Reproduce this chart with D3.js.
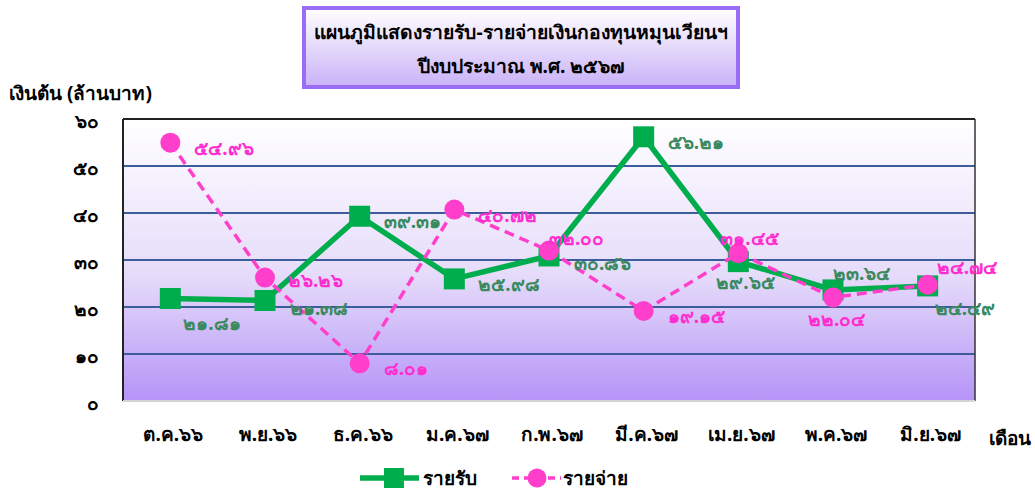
<!DOCTYPE html>
<html>
<head>
<meta charset="utf-8">
<script src="https://cdn.jsdelivr.net/npm/d3@7"></script>
<style>
  body { margin: 0; background: #fff; font-family: "Noto Sans", "DejaVu Sans", sans-serif; }
  svg text { font-family: "Noto Sans", "DejaVu Sans", sans-serif; }
</style>
</head>
<body>
<div id="chart"></div>
<script>
// ---- data ----
const months = ['ต.ค.๖๖', 'พ.ย.๖๖', 'ธ.ค.๖๖', 'ม.ค.๖๗', 'ก.พ.๖๗', 'มี.ค.๖๗', 'เม.ย.๖๗', 'พ.ค.๖๗', 'มิ.ย.๖๗'];
const income = [21.81, 21.38, 39.31, 25.98, 30.86, 56.21, 29.65, 23.64, 24.49];
const expense = [54.96, 26.26, 8.01, 40.72, 32.00, 19.15, 31.45, 22.04, 24.74];
const yTicks = [0, 10, 20, 30, 40, 50, 60];

// label placement per point (style only)
const incomeLabelPos = ['below', 'rightLow', 'right', 'right', 'rightLow', 'right', 'belowLeft', 'above', 'belowRight'];
const expenseLabelPos = ['right', 'rightHigh', 'right', 'right', 'above', 'right', 'aboveLeft', 'belowLeft', 'aboveRight'];

const thaiDigits = '๐๑๒๓๔๕๖๗๘๙';
const toThai = s => String(s).replace(/[0-9]/g, d => thaiDigits[+d]);

const W = 1035, H = 490;
const plot = { left: 123, right: 975, top: 119, bottom: 401 };
const FS = 19;

const svg = d3.select('#chart').append('svg')
    .attr('width', W)
    .attr('height', H);

const defs = svg.append('defs');
const bg = defs.append('linearGradient').attr('id', 'plotBg')
    .attr('x1', 0).attr('y1', 0).attr('x2', 0).attr('y2', 1);
bg.append('stop').attr('offset', '0%').attr('stop-color', '#ffffff');
bg.append('stop').attr('offset', '55%').attr('stop-color', '#e6dcfa');
bg.append('stop').attr('offset', '100%').attr('stop-color', '#b594f7');

const tg = defs.append('linearGradient').attr('id', 'titleBg')
    .attr('x1', 0).attr('y1', 0).attr('x2', 0).attr('y2', 1);
tg.append('stop').attr('offset', '0%').attr('stop-color', '#ffffff');
tg.append('stop').attr('offset', '100%').attr('stop-color', '#c9b2f7');

// scales
const x = d3.scaleBand().domain(months).range([plot.left, plot.right]);
const y = d3.scaleLinear().domain([0, 60]).range([plot.bottom, plot.top]);
const cx = m => x(m) + x.bandwidth() / 2;

// plot background
svg.append('rect')
    .attr('x', plot.left).attr('y', plot.top)
    .attr('width', plot.right - plot.left).attr('height', plot.bottom - plot.top)
    .attr('fill', 'url(#plotBg)');

// gridlines
svg.append('g')
    .selectAll('line')
    .data(yTicks.filter(t => t > 0 && t < 60))
    .enter().append('line')
    .attr('x1', plot.left).attr('x2', plot.right)
    .attr('y1', d => y(d)).attr('y2', d => y(d))
    .attr('stroke', '#3d5c9a').attr('stroke-width', 2);

// frame
svg.append('line').attr('x1', plot.left).attr('x2', plot.right)
    .attr('y1', plot.top).attr('y2', plot.top).attr('stroke', '#222').attr('stroke-width', 2);
svg.append('line').attr('x1', plot.left).attr('x2', plot.left)
    .attr('y1', plot.top).attr('y2', plot.bottom).attr('stroke', '#222').attr('stroke-width', 2);
svg.append('line').attr('x1', plot.right).attr('x2', plot.right)
    .attr('y1', plot.top).attr('y2', plot.bottom).attr('stroke', '#333').attr('stroke-width', 1.5);
svg.append('line').attr('x1', plot.left).attr('x2', plot.right)
    .attr('y1', plot.bottom).attr('y2', plot.bottom).attr('stroke', '#d4d4d4').attr('stroke-width', 2);

// y axis
const yAxis = d3.axisLeft(y).tickValues(yTicks).tickSize(0).tickPadding(0)
    .tickFormat(d => toThai(d));
const yG = svg.append('g').attr('transform', `translate(99,2)`).call(yAxis);
yG.select('.domain').remove();
yG.selectAll('text')
    .attr('font-size', FS).attr('font-weight', 'bold').attr('fill', '#000');

// x axis
const xAxis = d3.axisBottom(x).tickSize(0).tickPadding(0);
const xG = svg.append('g').attr('transform', `translate(3,${plot.bottom + 26})`).call(xAxis);
xG.select('.domain').remove();
xG.selectAll('text')
    .attr('font-size', FS).attr('font-weight', 'bold').attr('fill', '#000');

// axis titles
svg.append('text').attr('x', 9).attr('y', 100)
    .attr('font-size', FS).attr('font-weight', 'bold')
    .text('เงินต้น (ล้านบาท)');
svg.append('text').attr('x', 989).attr('y', 445)
    .attr('font-size', FS).attr('font-weight', 'bold')
    .text('เดือน');

// title box
svg.append('rect')
    .attr('x', 304).attr('y', 8).attr('width', 434).attr('height', 79)
    .attr('fill', 'url(#titleBg)')
    .attr('stroke', '#9b6cf5').attr('stroke-width', 4);
svg.append('text').attr('x', 521).attr('y', 39)
    .attr('text-anchor', 'middle').attr('font-size', 19.3).attr('font-weight', 'bold')
    .text('แผนภูมิแสดงรายรับ-รายจ่ายเงินกองทุนหมุนเวียนฯ');
svg.append('text').attr('x', 521).attr('y', 73)
    .attr('text-anchor', 'middle').attr('font-size', 19.3).attr('font-weight', 'bold')
    .text('ปีงบประมาณ พ.ศ. ๒๕๖๗');

// series
const incomeColor = '#00ad4d';
const expenseColor = '#ff3fcb';
const line = d3.line().x((d, i) => cx(months[i])).y(d => y(d));

svg.append('path').datum(income)
    .attr('d', line).attr('fill', 'none')
    .attr('stroke', incomeColor).attr('stroke-width', 5.5);

svg.append('g').selectAll('rect')
    .data(income).enter().append('rect')
    .attr('x', (d, i) => cx(months[i]) - 10.5)
    .attr('y', d => y(d) - 10.5)
    .attr('width', 21).attr('height', 21)
    .attr('fill', incomeColor);

svg.append('path').datum(expense)
    .attr('d', line).attr('fill', 'none')
    .attr('stroke', expenseColor).attr('stroke-width', 3.5)
    .attr('stroke-dasharray', '10,6');

svg.append('g').selectAll('circle')
    .data(expense).enter().append('circle')
    .attr('cx', (d, i) => cx(months[i]))
    .attr('cy', d => y(d))
    .attr('r', 10)
    .attr('fill', expenseColor);

// data label offsets from the point: [dx, dy of baseline]
const labelOffset = {
    right: [24, 12],
    rightLow: [25, 14],
    rightHigh: [23, 9],
    below: [13, 32],
    belowLeft: [-22, 27],
    belowRight: [7, 29],
    above: [0, -10],
    aboveLeft: [-18, -8],
    aboveRight: [9, -11]
};
const expenseOverride = { above: [0, -6], belowLeft: [-25, 29] };

function drawLabels(values, places, color, override) {
    const off = p => (override && override[p]) || labelOffset[p];
    svg.append('g').selectAll('text')
        .data(values).enter().append('text')
        .attr('x', (d, i) => cx(months[i]) + off(places[i])[0])
        .attr('y', (d, i) => y(d) + off(places[i])[1])
        .attr('font-size', FS).attr('font-weight', 'bold')
        .attr('fill', color)
        .text(d => toThai(d.toFixed(2)));
}
drawLabels(income, incomeLabelPos, '#3b8a5f');
drawLabels(expense, expenseLabelPos, '#ff2ed0', expenseOverride);

// legend
const lg = svg.append('g').attr('transform', 'translate(0,478)');
lg.append('line').attr('x1', 360).attr('x2', 419).attr('y1', 0).attr('y2', 0)
    .attr('stroke', incomeColor).attr('stroke-width', 5.5);
lg.append('rect').attr('x', 384).attr('y', -10).attr('width', 20).attr('height', 20)
    .attr('fill', incomeColor);
lg.append('text').attr('x', 423).attr('y', 7).attr('font-size', FS).attr('font-weight', 'bold')
    .text('รายรับ');
lg.append('line').attr('x1', 512).attr('x2', 561).attr('y1', 0).attr('y2', 0)
    .attr('stroke', expenseColor).attr('stroke-width', 3.5).attr('stroke-dasharray', '7,5');
lg.append('circle').attr('cx', 537).attr('cy', 0).attr('r', 9.5).attr('fill', expenseColor);
lg.append('text').attr('x', 563).attr('y', 7).attr('font-size', FS).attr('font-weight', 'bold')
    .text('รายจ่าย');
</script>
</body>
</html>
